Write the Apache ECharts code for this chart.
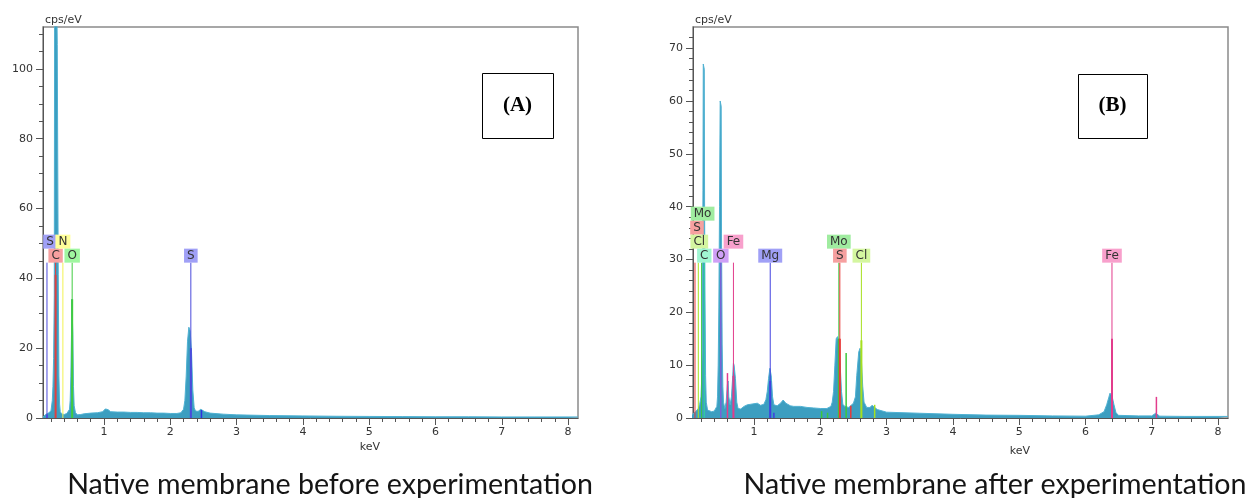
<!DOCTYPE html>
<html>
<head>
<meta charset="utf-8">
<title>EDS spectra</title>
<script src="https://cdn.jsdelivr.net/npm/echarts@6/dist/echarts.min.js"></script>
<style>
  html, body { margin: 0; padding: 0; background: #fff; }
  #chart { width: 1252px; height: 498px; }
</style>
</head>
<body>
<div id="chart"></div>
<script>
// (A) native membrane before experimentation
const keVA = [0.08, 0.10, 0.12, 0.14, 0.16, 0.18, 0.20, 0.22, 0.23, 0.24, 0.25, 0.255, 0.29, 0.295, 0.305, 0.31, 0.32, 0.33, 0.34, 0.36, 0.38, 0.40, 0.42, 0.44, 0.46, 0.48, 0.49, 0.50, 0.51, 0.515, 0.525, 0.53, 0.54, 0.55, 0.57, 0.60, 0.65, 0.70, 0.80, 0.90, 0.98, 1.02, 1.04, 1.06, 1.10, 1.20, 1.30, 1.40, 1.50, 1.60, 1.70, 1.80, 1.90, 2.00, 2.10, 2.16, 2.20, 2.22, 2.24, 2.26, 2.28, 2.30, 2.32, 2.34, 2.36, 2.38, 2.42, 2.46, 2.48, 2.52, 2.60, 2.80, 3.00, 3.50, 4.00, 4.50, 5.00, 5.50, 6.00, 6.50, 7.00, 7.50, 8.00, 8.15];
const cpsA = [0.3, 0.6, 1.0, 1.3, 1.4, 1.5, 2.0, 5, 9, 17, 35, 116, 116, 107, 107, 41, 12, 4, 1.8, 1.2, 1.0, 1.0, 1.1, 1.3, 1.5, 2.5, 5, 12, 24, 34, 34, 24, 9, 3.5, 1.5, 0.9, 1.0, 1.2, 1.4, 1.5, 1.8, 2.6, 3.0, 2.4, 1.8, 1.7, 1.7, 1.6, 1.6, 1.5, 1.5, 1.4, 1.4, 1.3, 1.3, 1.5, 2.5, 5, 12, 22, 26, 25, 19, 8, 3, 2, 1.9, 2.5, 2.5, 1.8, 1.4, 1.1, 0.9, 0.7, 0.6, 0.5, 0.45, 0.4, 0.35, 0.35, 0.3, 0.3, 0.3, 0.3];

// (B) native membrane after experimentation
const keVB = [0.05, 0.08, 0.10, 0.12, 0.14, 0.16, 0.18, 0.20, 0.21, 0.22, 0.23, 0.235, 0.25, 0.255, 0.26, 0.27, 0.28, 0.30, 0.33, 0.36, 0.40, 0.42, 0.44, 0.45, 0.46, 0.47, 0.48, 0.49, 0.505, 0.51, 0.52, 0.53, 0.54, 0.56, 0.58, 0.60, 0.61, 0.62, 0.64, 0.66, 0.68, 0.69, 0.70, 0.72, 0.74, 0.76, 0.80, 0.85, 0.90, 0.95, 1.00, 1.05, 1.10, 1.15, 1.18, 1.20, 1.22, 1.24, 1.26, 1.28, 1.30, 1.35, 1.40, 1.44, 1.48, 1.55, 1.60, 1.70, 1.80, 1.90, 2.00, 2.10, 2.16, 2.18, 2.20, 2.22, 2.24, 2.26, 2.28, 2.30, 2.32, 2.34, 2.37, 2.40, 2.43, 2.46, 2.50, 2.53, 2.55, 2.58, 2.60, 2.62, 2.64, 2.66, 2.70, 2.75, 2.78, 2.81, 2.86, 3.00, 3.50, 4.00, 4.50, 5.00, 5.50, 6.00, 6.20, 6.28, 6.32, 6.35, 6.37, 6.40, 6.43, 6.46, 6.50, 6.80, 7.00, 7.03, 7.06, 7.09, 7.12, 7.50, 8.00, 8.15];
const cpsB = [0.3, 0.8, 1.0, 1.2, 1.5, 1.8, 2.5, 4, 7, 13, 43, 67, 66, 40, 25, 8, 3, 1.5, 1.2, 1.2, 1.3, 1.6, 2.2, 4, 10, 21, 40, 60, 59, 35, 14, 6, 3, 1.8, 3, 6.5, 7, 4, 2.5, 4, 8, 10.4, 10, 7.5, 3, 1.8, 1.7, 2.2, 2.5, 2.6, 2.7, 2.8, 2.4, 2.6, 3.5, 5, 7.5, 9.4, 8, 4, 2.5, 2.3, 2.8, 3.4, 2.8, 2.3, 2.2, 2.2, 2.0, 1.9, 1.8, 1.8, 2.2, 3, 5, 10, 15, 15.4, 14, 10, 5, 2.6, 2.2, 2.4, 2.0, 2.2, 2.8, 4, 8, 12.5, 13.2, 11, 6, 3, 2.0, 2.0, 2.4, 2.2, 1.6, 1.1, 0.9, 0.7, 0.55, 0.5, 0.4, 0.35, 0.6, 1.2, 2.5, 3.8, 4.7, 4.2, 2.5, 1.0, 0.5, 0.4, 0.4, 0.7, 0.9, 0.6, 0.35, 0.3, 0.3, 0.3];

// element markers: name, energy (keV), line intensity (cps/eV), label row
const elA = ['S', 'C', 'N', 'O', 'S', ''];
const elKeVA = [0.14, 0.27, 0.38, 0.52, 2.31, 2.47];
const elIntA = [1, 41, 0, 34, 20, 2.3];
const elRowA = [1, 0, 1, 0, 0, -1];
const elColA = ['#4b4bdc', '#e04040', '#f2f250', '#40cc40', '#4b4bdc', '#3030e0'];
const elBgA = ['#a0a0f6', '#f6a0a0', '#ffff99', '#a0f6a0', '#a0a0f6', ''];
const elDxA = [3, 0, 0, 0, 0, 0];

const elB = ['S', 'Cl', 'Mo', 'C', 'O', 'Fe', 'Mg', 'Mo', 'S', 'Cl', 'Fe', '', '', '', '', '', '', '', ''];
const elKeVB = [0.11, 0.16, 0.21, 0.25, 0.50, 0.69, 1.245, 2.28, 2.295, 2.62, 6.40, 0.60, 1.30, 2.02, 2.11, 2.39, 2.46, 2.82, 7.07];
const elIntB = [0, 0, 0, 0, 0, 8, 7, 15, 15, 14.7, 15, 8.5, 1, 1.3, 1, 12.3, 2.3, 2.5, 4.0];
const elRowB = [2, 1, 3, 0, 0, 1, 0, 1, 0, 0, 0, -1, -1, -1, -1, -1, -1, -1, -1];
const elColB = ['#e83a3a', '#a6e01e', '#3cc83c', '#30d49a', '#9a44e0', '#e23c8c', '#4040e0', '#3cc83c', '#e83a3a', '#a6e01e', '#e23c8c', '#e23c8c', '#4040e0', '#3cc83c', '#3cc83c', '#3cc83c', '#e83a3a', '#a6e01e', '#e23c8c'];
const elBgB = ['#f6a0a0', '#d4f6a0', '#a0eca0', '#a0f6d2', '#cfa0f6', '#f8a0cc', '#a0a0f6', '#a0eca0', '#f6a0a0', '#d4f6a0', '#f8a0cc', '', '', '', '', '', '', '', ''];
const elDxB = [2, 1, 1, 0, 0, 0, 0, 0, 0, 0, 0, 0, 0, 0, 0, 0, 0, 0, 0];

// axis ticks
const xTicks = [1, 2, 3, 4, 5, 6, 7, 8];
const xMinor = [0.2, 0.4, 0.6, 0.8, 1.2, 1.4, 1.6, 1.8, 2.2, 2.4, 2.6, 2.8, 3.2, 3.4, 3.6, 3.8, 4.2, 4.4, 4.6, 4.8, 5.2, 5.4, 5.6, 5.8, 6.2, 6.4, 6.6, 6.8, 7.2, 7.4, 7.6, 7.8];
const yTicksA = [0, 20, 40, 60, 80, 100];
const yMinorA = [5, 10, 15, 25, 30, 35, 45, 50, 55, 65, 70, 75, 85, 90, 95, 105, 110];
const yTicksB = [0, 10, 20, 30, 40, 50, 60, 70];
const yMinorB = [2, 4, 6, 8, 12, 14, 16, 18, 22, 24, 26, 28, 32, 34, 36, 38, 42, 44, 46, 48, 52, 54, 56, 58, 62, 64, 66, 68, 72];

const captionA = 'Native membrane before experimentation';
const captionB = 'Native membrane after experimentation';

const X_MIN = 0.08, X_MAX = 8.15;
const Y_MAX_A = 112, Y_MAX_B = 74;
const MARK_H_A = 44.5, MARK_H_B = 29.4;
const ROW_H = 14;

const chart = echarts.init(document.getElementById('chart'));
const axisColor = '#555';
const tickFont = { color: '#333', fontSize: 11, fontFamily: 'DejaVu Sans' };

function xAxes(grid) {
  return [
    {
      gridIndex: grid, type: 'value', min: X_MIN, max: X_MAX, position: 'bottom',
      axisLine: { show: true, onZero: false, lineStyle: { color: axisColor } },
      axisTick: { show: true, length: 7, customValues: xTicks, lineStyle: { color: axisColor } },
      axisLabel: Object.assign({ customValues: xTicks, margin: 9 }, tickFont),
      splitLine: { show: false }
    },
    {
      gridIndex: grid, type: 'value', min: X_MIN, max: X_MAX, position: 'bottom',
      axisLine: { show: false },
      axisTick: { show: true, length: 4, customValues: xMinor, lineStyle: { color: axisColor } },
      axisLabel: { show: false },
      splitLine: { show: false }
    }
  ];
}

function yAxes(grid, max, ticks, minor) {
  return [
    {
      gridIndex: grid, type: 'value', min: 0, max: max, position: 'left',
      name: 'cps/eV', nameLocation: 'end', nameGap: 1,
      nameTextStyle: { color: '#333', fontSize: 11, fontFamily: 'DejaVu Sans', align: 'left', padding: [0, 0, 0, 2] },
      axisLine: { show: true, onZero: false, lineStyle: { color: axisColor } },
      axisTick: { show: true, length: 7, customValues: ticks, lineStyle: { color: axisColor } },
      axisLabel: Object.assign({ customValues: ticks, margin: 10 }, tickFont),
      splitLine: { show: false }
    },
    {
      gridIndex: grid, type: 'value', min: 0, max: max, position: 'left',
      axisLine: { show: false, onZero: false },
      axisTick: { show: true, length: 4, customValues: minor, lineStyle: { color: axisColor } },
      axisLabel: { show: false },
      splitLine: { show: false }
    }
  ];
}

function spectrum(axisIdx, keV, cps) {
  return {
    type: 'line',
    xAxisIndex: axisIdx, yAxisIndex: axisIdx,
    data: keV.map((k, i) => [k, cps[i]]),
    symbol: 'none',
    clip: true,
    lineStyle: { color: '#4fb1d2', width: 1 },
    areaStyle: { color: '#3c9ec0', opacity: 1 },
    z: 2
  };
}

// element lines with coloured tags
function markers(axisIdx, names, keV, ints, rows, cols, bgs, dxs, markH) {
  return {
    type: 'custom',
    xAxisIndex: axisIdx, yAxisIndex: axisIdx,
    data: keV.map((k, i) => [k, ints[i], rows[i]]),
    z: 5,
    renderItem: (params, api) => {
      const i = params.dataIndex;
      const e = api.value(0);
      const base = api.coord([e, 0]);
      const children = [];
      const row = api.value(2);
      if (row >= 0) {
        const top = api.coord([e, markH]);
        children.push({
          type: 'line',
          shape: { x1: base[0], y1: base[1], x2: top[0], y2: top[1] },
          style: { stroke: cols[i], lineWidth: 1 }
        });
        children.push({
          type: 'text',
          x: top[0] + dxs[i],
          y: top[1] - row * ROW_H,
          style: {
            text: names[i], fill: '#333', font: '12px "DejaVu Sans"',
            align: 'center', verticalAlign: 'bottom', lineHeight: 12,
            backgroundColor: bgs[i], padding: [1, 3, 1, 3]
          }
        });
      }
      if (api.value(1) > 0) {
        const inner = api.coord([e, api.value(1)]);
        children.push({
          type: 'line',
          shape: { x1: base[0], y1: base[1], x2: inner[0], y2: inner[1] },
          style: { stroke: cols[i], lineWidth: row >= 0 ? 2 : 1.5 }
        });
      }
      return { type: 'group', children: children };
    }
  };
}

function tagBox(x, y, w, h, label) {
  return [
    { type: 'rect', left: x, top: y, shape: { width: w, height: h }, style: { fill: '#fff', stroke: '#000', lineWidth: 1 }, z: 10 },
    { type: 'text', x: x + w / 2, y: y + h / 2, style: { text: label, font: 'bold 21px "Liberation Serif"', fill: '#000', align: 'center', verticalAlign: 'middle' }, z: 11 }
  ];
}

const option = {
  backgroundColor: '#fff',
  animation: false,
  grid: [
    { left: 43, top: 27, width: 535, height: 391, show: true, borderColor: '#8a8a8a', borderWidth: 1.5 },
    { left: 693, top: 27, width: 535, height: 391, show: true, borderColor: '#8a8a8a', borderWidth: 1.5 }
  ],
  xAxis: xAxes(0).concat(xAxes(1)),
  yAxis: yAxes(0, Y_MAX_A, yTicksA, yMinorA).concat(yAxes(1, Y_MAX_B, yTicksB, yMinorB)),
  series: [
    spectrum(0, keVA, cpsA),
    markers(0, elA, elKeVA, elIntA, elRowA, elColA, elBgA, elDxA, MARK_H_A),
    spectrum(2, keVB, cpsB),
    markers(2, elB, elKeVB, elIntB, elRowB, elColB, elBgB, elDxB, MARK_H_B)
  ],
  graphic: [
    { type: 'text', x: 370, y: 447, style: { text: 'keV', font: '11px "DejaVu Sans"', fill: '#333', align: 'center', verticalAlign: 'middle' } },
    { type: 'text', x: 1020, y: 451, style: { text: 'keV', font: '11px "DejaVu Sans"', fill: '#333', align: 'center', verticalAlign: 'middle' } },
    { type: 'text', x: 330, y: 485, style: { text: captionA, font: '28.6px Lato', fill: '#151515', align: 'center', verticalAlign: 'middle' } },
    { type: 'text', x: 995, y: 485, style: { text: captionB, font: '28.6px Lato', fill: '#151515', align: 'center', verticalAlign: 'middle' } }
  ].concat(tagBox(482, 73, 71, 65, '(A)'), tagBox(1078, 74, 69, 64, '(B)'))
};

chart.setOption(option);
</script>
</body>
</html>
